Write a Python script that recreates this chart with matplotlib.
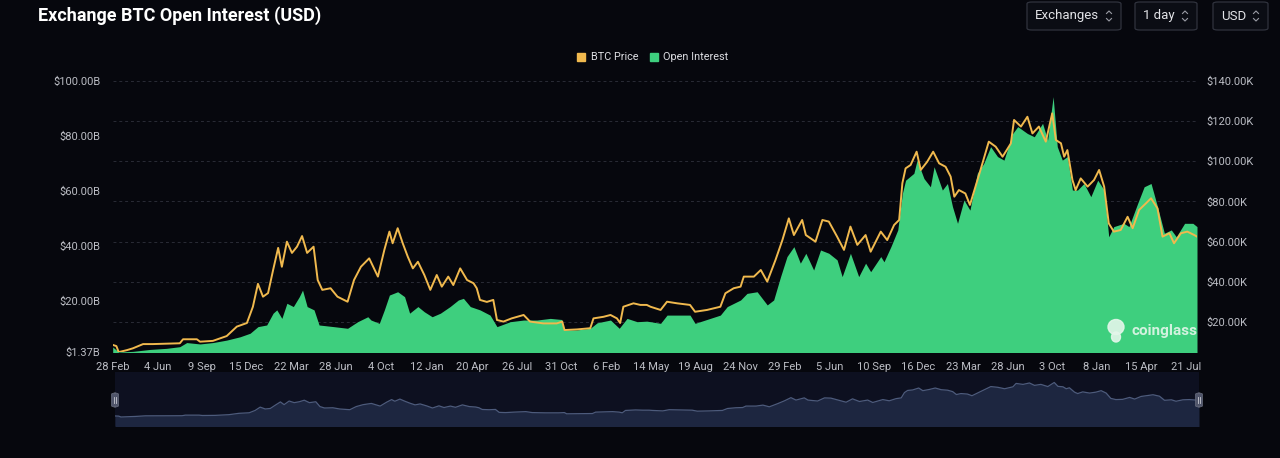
import numpy as np
import matplotlib
matplotlib.use("Agg")
from matplotlib import pyplot as plt
from matplotlib.patches import Rectangle, FancyBboxPatch, Ellipse
from matplotlib.lines import Line2D

plt.rcParams['font.family'] = ['Roboto', 'DejaVu Sans']

# BTC price, thousands of USD (right axis)
price_dates = [
    '2020-02-28', '2020-03-07', '2020-03-12', '2020-03-30', '2020-04-12', '2020-05-04',
    '2020-05-25', '2020-06-24', '2020-07-23', '2020-07-30', '2020-08-29', '2020-09-05',
    '2020-10-03', '2020-11-02', '2020-11-24', '2020-12-16', '2020-12-29', '2021-01-09',
    '2021-01-20', '2021-01-31', '2021-02-11', '2021-02-22', '2021-03-02', '2021-03-13',
    '2021-03-24', '2021-04-04', '2021-04-15', '2021-04-26', '2021-05-10', '2021-05-19',
    '2021-05-29', '2021-06-16', '2021-07-01', '2021-07-23', '2021-08-06', '2021-08-21',
    '2021-09-08', '2021-09-27', '2021-10-11', '2021-10-22', '2021-10-29', '2021-11-09',
    '2021-11-20', '2021-12-01', '2021-12-12', '2021-12-23', '2022-01-06', '2022-01-19',
    '2022-02-02', '2022-02-13', '2022-02-27', '2022-03-10', '2022-03-25', '2022-04-09',
    '2022-04-23', '2022-04-30', '2022-05-07', '2022-05-22', '2022-06-05', '2022-06-13',
    '2022-06-27', '2022-07-15', '2022-08-10', '2022-08-24', '2022-09-22', '2022-10-21',
    '2022-11-02', '2022-11-07', '2022-12-04', '2023-01-02', '2023-01-09', '2023-01-31',
    '2023-02-15', '2023-03-01', '2023-03-08', '2023-03-15', '2023-04-06', '2023-04-21',
    '2023-05-05', '2023-05-13', '2023-06-04', '2023-06-18', '2023-07-10', '2023-08-07',
    '2023-08-18', '2023-09-13', '2023-10-12', '2023-10-23', '2023-11-10', '2023-11-25',
    '2023-12-02', '2023-12-24', '2024-01-08', '2024-01-22', '2024-02-09', '2024-02-24',
    '2024-03-09', '2024-03-20', '2024-04-07', '2024-04-15', '2024-05-06', '2024-05-21',
    '2024-06-04', '2024-06-22', '2024-07-07', '2024-07-21', '2024-08-05', '2024-08-23',
    '2024-09-03', '2024-09-25', '2024-10-09', '2024-10-24', '2024-11-04', '2024-11-11',
    '2024-11-18', '2024-11-29', '2024-12-12', '2024-12-21', '2025-01-04', '2025-01-17',
    '2025-01-30', '2025-02-13', '2025-02-24', '2025-03-04', '2025-03-14', '2025-03-28',
    '2025-04-07', '2025-04-19', '2025-04-30', '2025-05-18', '2025-06-02', '2025-06-17',
    '2025-07-05', '2025-07-12', '2025-07-27', '2025-08-10', '2025-08-21', '2025-09-04',
    '2025-09-19', '2025-10-03', '2025-10-11', '2025-10-22', '2025-10-29', '2025-11-05',
    '2025-11-16', '2025-11-23', '2025-12-04', '2025-12-19', '2026-01-02', '2026-01-13',
    '2026-01-24', '2026-02-03', '2026-02-14', '2026-03-01', '2026-03-16', '2026-03-27',
    '2026-04-10', '2026-04-25', '2026-05-06', '2026-05-20', '2026-05-31', '2026-06-15',
    '2026-06-25', '2026-07-10', '2026-07-24', '2026-08-08', '2026-08-14',
]
price_k = [
    8.6, 8.0, 5.0, 6.0, 6.9, 9.0,
    9.0, 9.2, 9.4, 11.4, 11.4, 10.2,
    10.6, 13.0, 17.7, 19.5, 27.6, 39.0,
    32.6, 34.4, 45.9, 56.9, 47.5, 60.0,
    54.4, 57.5, 62.8, 54.4, 57.5, 40.9,
    36.0, 36.8, 32.6, 30.1, 40.9, 47.5,
    51.7, 42.6, 55.9, 65.0, 59.2, 66.7,
    59.2, 52.5, 46.7, 50.0, 43.4, 36.0,
    43.4, 37.6, 42.6, 38.4, 46.7, 40.9,
    39.3, 36.8, 31.0, 30.0, 31.0, 21.0,
    20.2, 21.8, 23.5, 20.2, 19.3, 19.3,
    20.2, 16.0, 16.3, 16.9, 21.8, 22.6,
    23.5, 21.8, 19.5, 27.6, 29.3, 28.5,
    28.5, 27.6, 26.0, 30.1, 29.3, 28.5,
    25.1, 26.0, 27.6, 34.3, 36.8, 37.6,
    42.6, 42.6, 45.9, 40.1, 50.9, 60.8,
    71.6, 63.3, 70.8, 63.3, 60.0, 70.8,
    70.0, 62.5, 55.9, 67.5, 58.4, 63.3,
    55.0, 65.0, 60.8, 68.3, 70.8, 89.1,
    96.5, 98.2, 104.8, 95.7, 99.8, 104.8,
    99.0, 97.3, 92.4, 82.4, 85.7, 84.0,
    78.3, 87.4, 95.7, 109.8, 107.3, 102.3,
    108.9, 120.6, 117.3, 122.2, 113.9, 117.3,
    109.8, 123.9, 110.6, 109.0, 102.3, 105.6,
    90.7, 85.7, 91.5, 87.4, 90.7, 95.7,
    87.4, 69.1, 65.0, 65.8, 72.4, 66.7,
    75.8, 79.1, 81.6, 76.6, 62.5, 64.2,
    59.2, 64.2, 65.0, 63.3, 62.5,
]

# open interest, billions of USD (left axis)
oi_dates = [
    '2020-02-28', '2020-03-12', '2020-04-12', '2020-05-19', '2020-06-24', '2020-07-23',
    '2020-08-07', '2020-09-05', '2020-10-03', '2020-11-02', '2020-12-01', '2020-12-23',
    '2021-01-09', '2021-01-28', '2021-02-11', '2021-02-19', '2021-03-02', '2021-03-13',
    '2021-03-27', '2021-04-09', '2021-04-16', '2021-04-26', '2021-05-11', '2021-05-22',
    '2021-06-23', '2021-07-23', '2021-08-14', '2021-09-05', '2021-09-12', '2021-09-30',
    '2021-10-11', '2021-10-22', '2021-11-09', '2021-11-24', '2021-12-05', '2021-12-23',
    '2022-01-06', '2022-01-23', '2022-02-10', '2022-03-03', '2022-03-21', '2022-04-01',
    '2022-04-16', '2022-05-07', '2022-05-29', '2022-06-13', '2022-07-12', '2022-08-10',
    '2022-09-08', '2022-10-07', '2022-11-01', '2022-11-05', '2022-12-04', '2023-01-02',
    '2023-01-17', '2023-02-15', '2023-03-06', '2023-03-23', '2023-04-14', '2023-05-05',
    '2023-06-04', '2023-06-18', '2023-08-07', '2023-08-18', '2023-10-12', '2023-10-27',
    '2023-11-25', '2023-12-09', '2023-12-31', '2024-01-22', '2024-02-05', '2024-02-20',
    '2024-03-05', '2024-03-20', '2024-04-03', '2024-04-15', '2024-05-02', '2024-05-17',
    '2024-06-04', '2024-06-22', '2024-07-03', '2024-07-21', '2024-08-08', '2024-08-23',
    '2024-09-03', '2024-09-25', '2024-10-02', '2024-10-17', '2024-11-01', '2024-11-11',
    '2024-11-18', '2024-12-06', '2024-12-13', '2024-12-28', '2025-01-11', '2025-01-19',
    '2025-02-06', '2025-02-17', '2025-02-28', '2025-03-11', '2025-03-25', '2025-04-07',
    '2025-04-23', '2025-05-07', '2025-05-22', '2025-06-06', '2025-06-20', '2025-07-09',
    '2025-07-20', '2025-08-10', '2025-08-25', '2025-09-12', '2025-09-23', '2025-10-05',
    '2025-10-14', '2025-10-25', '2025-11-05', '2025-11-16', '2025-11-27', '2025-12-11',
    '2025-12-26', '2026-01-10', '2026-01-24', '2026-02-03', '2026-02-14', '2026-03-08',
    '2026-03-19', '2026-04-07', '2026-04-21', '2026-05-06', '2026-05-20', '2026-06-04',
    '2026-06-19', '2026-06-30', '2026-07-18', '2026-08-05', '2026-08-14',
]
oi_b = [
    3.2, 1.37, 1.6, 2.3, 2.7, 3.3,
    4.8, 4.3, 4.8, 5.7, 6.9, 8.2,
    10.6, 11.2, 15.5, 16.7, 13.6, 19.1,
    17.9, 21.5, 23.9, 17.9, 16.7, 11.2,
    10.6, 10.0, 12.4, 14.2, 13.0, 11.8,
    16.7, 22.1, 23.3, 21.5, 15.5, 17.9,
    16.0, 14.2, 15.5, 17.9, 20.3, 20.9,
    17.9, 16.7, 14.8, 10.6, 12.4, 13.0,
    13.0, 13.6, 13.2, 9.4, 9.4, 10.0,
    12.0, 13.0, 10.0, 13.6, 12.4, 12.6,
    11.8, 14.8, 14.8, 11.8, 14.8, 17.9,
    20.3, 22.7, 23.3, 18.5, 20.3, 28.8,
    36.1, 39.7, 33.7, 37.3, 31.2, 38.5,
    37.3, 34.9, 28.8, 37.3, 28.8, 33.7,
    30.6, 36.1, 34.2, 39.7, 45.8, 59.1,
    63.9, 66.4, 71.2, 64.5, 61.5, 68.8,
    60.3, 62.7, 54.3, 48.2, 56.7, 53.0,
    66.4, 70.0, 76.1, 72.5, 71.2, 80.9,
    83.4, 80.9, 79.7, 84.6, 78.5, 94.3,
    76.1, 71.2, 72.5, 60.3, 60.3, 62.7,
    57.9, 63.9, 60.3, 43.3, 47.0, 48.2,
    47.0, 55.5, 61.5, 62.7, 54.3, 44.6,
    45.8, 43.3, 48.2, 48.2, 47.0,
]

tick_dates = [
    '2020-02-28', '2020-06-04', '2020-09-09', '2020-12-15', '2021-03-22', '2021-06-28',
    '2021-10-04', '2022-01-12', '2022-04-20', '2022-07-26', '2022-10-31', '2023-02-06',
    '2023-05-14', '2023-08-19', '2023-11-24', '2024-02-29', '2024-06-05', '2024-09-10',
    '2024-12-16', '2025-03-23', '2025-06-28', '2025-10-03', '2026-01-08', '2026-04-15',
    '2026-07-21',
]
tick_labels = [
    '28 Feb', '4 Jun', '9 Sep', '15 Dec', '22 Mar', '28 Jun', '4 Oct', '12 Jan', '20 Apr',
    '26 Jul', '31 Oct', '6 Feb', '14 May', '19 Aug', '24 Nov', '29 Feb', '5 Jun', '10 Sep',
    '16 Dec', '23 Mar', '28 Jun', '3 Oct', '8 Jan', '15 Apr', '21 Jul',
]
oi_ticks = [1.37, 20, 40, 60, 80, 100]
oi_tick_labels = ['$1.37B', '$20.00B', '$40.00B', '$60.00B', '$80.00B', '$100.00B']
price_ticks = [20, 40, 60, 80, 100, 120, 140]
price_tick_labels = ['$20.00K', '$40.00K', '$60.00K', '$80.00K', '$100.00K', '$120.00K', '$140.00K']

BG = '#06070d'
ORANGE = '#f0b94e'
GREEN = '#3ecf7e'
TXT = '#bbbdc4'
W, H = 1280, 458


def fx(x):
    return x / W


def fy(y):
    return 1 - y / H


pd_arr = np.array(price_dates, dtype='datetime64[D]')
oi_arr = np.array(oi_dates, dtype='datetime64[D]')
xmin = np.datetime64('2020-02-28')
xmax = np.datetime64('2026-08-14')
pmin, pmax = 5.06, 140

fig = plt.figure(figsize=(W / 100, H / 100), dpi=100, facecolor=BG)

# base axes: price scale, grid and right labels
ax = fig.add_axes([fx(112.7), fy(352), fx(1197) - fx(112.7), fy(81) - fy(352)])
ax.set_facecolor(BG)
ax_oi = ax.twinx()
ax_px = ax.twinx()

ax.set_ylim(pmin, pmax)
ax.set_yticks(price_ticks)
ax.set_yticklabels(price_tick_labels)
ax.yaxis.tick_right()
ax.grid(axis='y', color='#2a2c36', lw=0.7, ls=(0, (3, 3)))
ax.set_xlim(xmin, xmax)
ax.set_xticks(np.array(tick_dates, dtype='datetime64[D]'))
ax.set_xticklabels(tick_labels)
ax.tick_params(axis='both', length=0, colors=TXT, labelsize=8)
ax.tick_params(axis='x', pad=7)
ax.tick_params(axis='y', pad=7)

ax_oi.fill_between(oi_arr, oi_b, 0, color=GREEN, lw=0)
ax_oi.set_ylim(1.37, 100)
ax_oi.set_yticks(oi_ticks)
ax_oi.set_yticklabels(oi_tick_labels)
ax_oi.yaxis.tick_left()
ax_oi.tick_params(axis='y', length=0, colors=TXT, labelsize=8, pad=9)

ax_px.plot(pd_arr, price_k, color=ORANGE, lw=1.4)
ax_px.set_ylim(pmin, pmax)
ax_px.yaxis.set_visible(False)

for a in (ax, ax_oi, ax_px):
    a.set_xlim(xmin, xmax)
    for s in a.spines.values():
        s.set_visible(False)

# navigator strip under the chart
nav = fig.add_axes([fx(115), fy(426), fx(1199) - fx(115), fy(372) - fy(426)])
nav.set_facecolor('#0d1020')
nav.fill_between(pd_arr, price_k, -30, color='#1d2640', lw=0)
nav.plot(pd_arr, price_k, color='#4d5b7c', lw=0.9)
nav.set_xlim(xmin, xmax)
nav.set_ylim(-26, 160)
nav.set_xticks([])
nav.set_yticks([])
for s in nav.spines.values():
    s.set_visible(False)

for hx in (115, 1199):
    fig.patches.append(FancyBboxPatch((fx(hx - 3.5), fy(407)), fx(7), fy(393) - fy(407),
                                      boxstyle='round,pad=0,rounding_size=0.003',
                                      transform=fig.transFigure, fc='#50556a', ec='#6a6f80', lw=0.5))
    for dx in (-1, 1):
        fig.lines.append(Line2D([fx(hx + dx), fx(hx + dx)], [fy(397), fy(403)],
                                transform=fig.transFigure, color='#c8cad2', lw=0.6))

# title
fig.text(fx(38), fy(16), 'Exchange BTC Open Interest (USD)', color='white',
         fontsize=13, fontweight='bold', va='center', ha='left')

# legend
for sx, tx, col, lab in ((577, 591, ORANGE, 'BTC Price'), (650, 663, GREEN, 'Open Interest')):
    fig.patches.append(Rectangle((fx(sx), fy(61)), fx(8), fy(53) - fy(61),
                                 transform=fig.transFigure, color=col))
    fig.text(fx(tx), fy(57), lab, color='#dcdde2', fontsize=7.8, va='center', ha='left')

# selector buttons
buttons = [(1027, 1121, 'Exchanges'), (1135, 1197, '1 day'), (1213, 1268, 'USD')]
for x0, x1, lab in buttons:
    fig.patches.append(FancyBboxPatch((fx(x0), fy(30)), fx(x1 - x0), fy(2) - fy(30),
                                      boxstyle='round,pad=0,rounding_size=0.004',
                                      transform=fig.transFigure, fc='#0b0d14', ec='#30333d', lw=0.9))
    fig.text(fx(x0 + 8), fy(16), lab, color='#e2e3e7', fontsize=9.5, va='center', ha='left')
    cx = x1 - 12
    fig.lines.append(Line2D([fx(cx - 2.5), fx(cx), fx(cx + 2.5)], [fy(13.5), fy(11), fy(13.5)],
                            transform=fig.transFigure, color='#9a9ca5', lw=0.8))
    fig.lines.append(Line2D([fx(cx - 2.5), fx(cx), fx(cx + 2.5)], [fy(18.5), fy(21), fy(18.5)],
                            transform=fig.transFigure, color='#9a9ca5', lw=0.8))

# watermark
WM = '#e4f6ea'
fig.patches.append(Ellipse((fx(1116), fy(327)), fx(16), fy(0) - fy(15),
                           transform=fig.transFigure, color=WM, alpha=0.9))
fig.patches.append(Ellipse((fx(1116), fy(337)), fx(9), fy(0) - fy(10),
                           transform=fig.transFigure, color=WM, alpha=0.9))
fig.text(fx(1131), fy(331), 'coinglass', color=WM, alpha=0.9, fontsize=11,
         fontweight='bold', va='center', ha='left')

fig.savefig('out.png', dpi=100, facecolor=BG)
